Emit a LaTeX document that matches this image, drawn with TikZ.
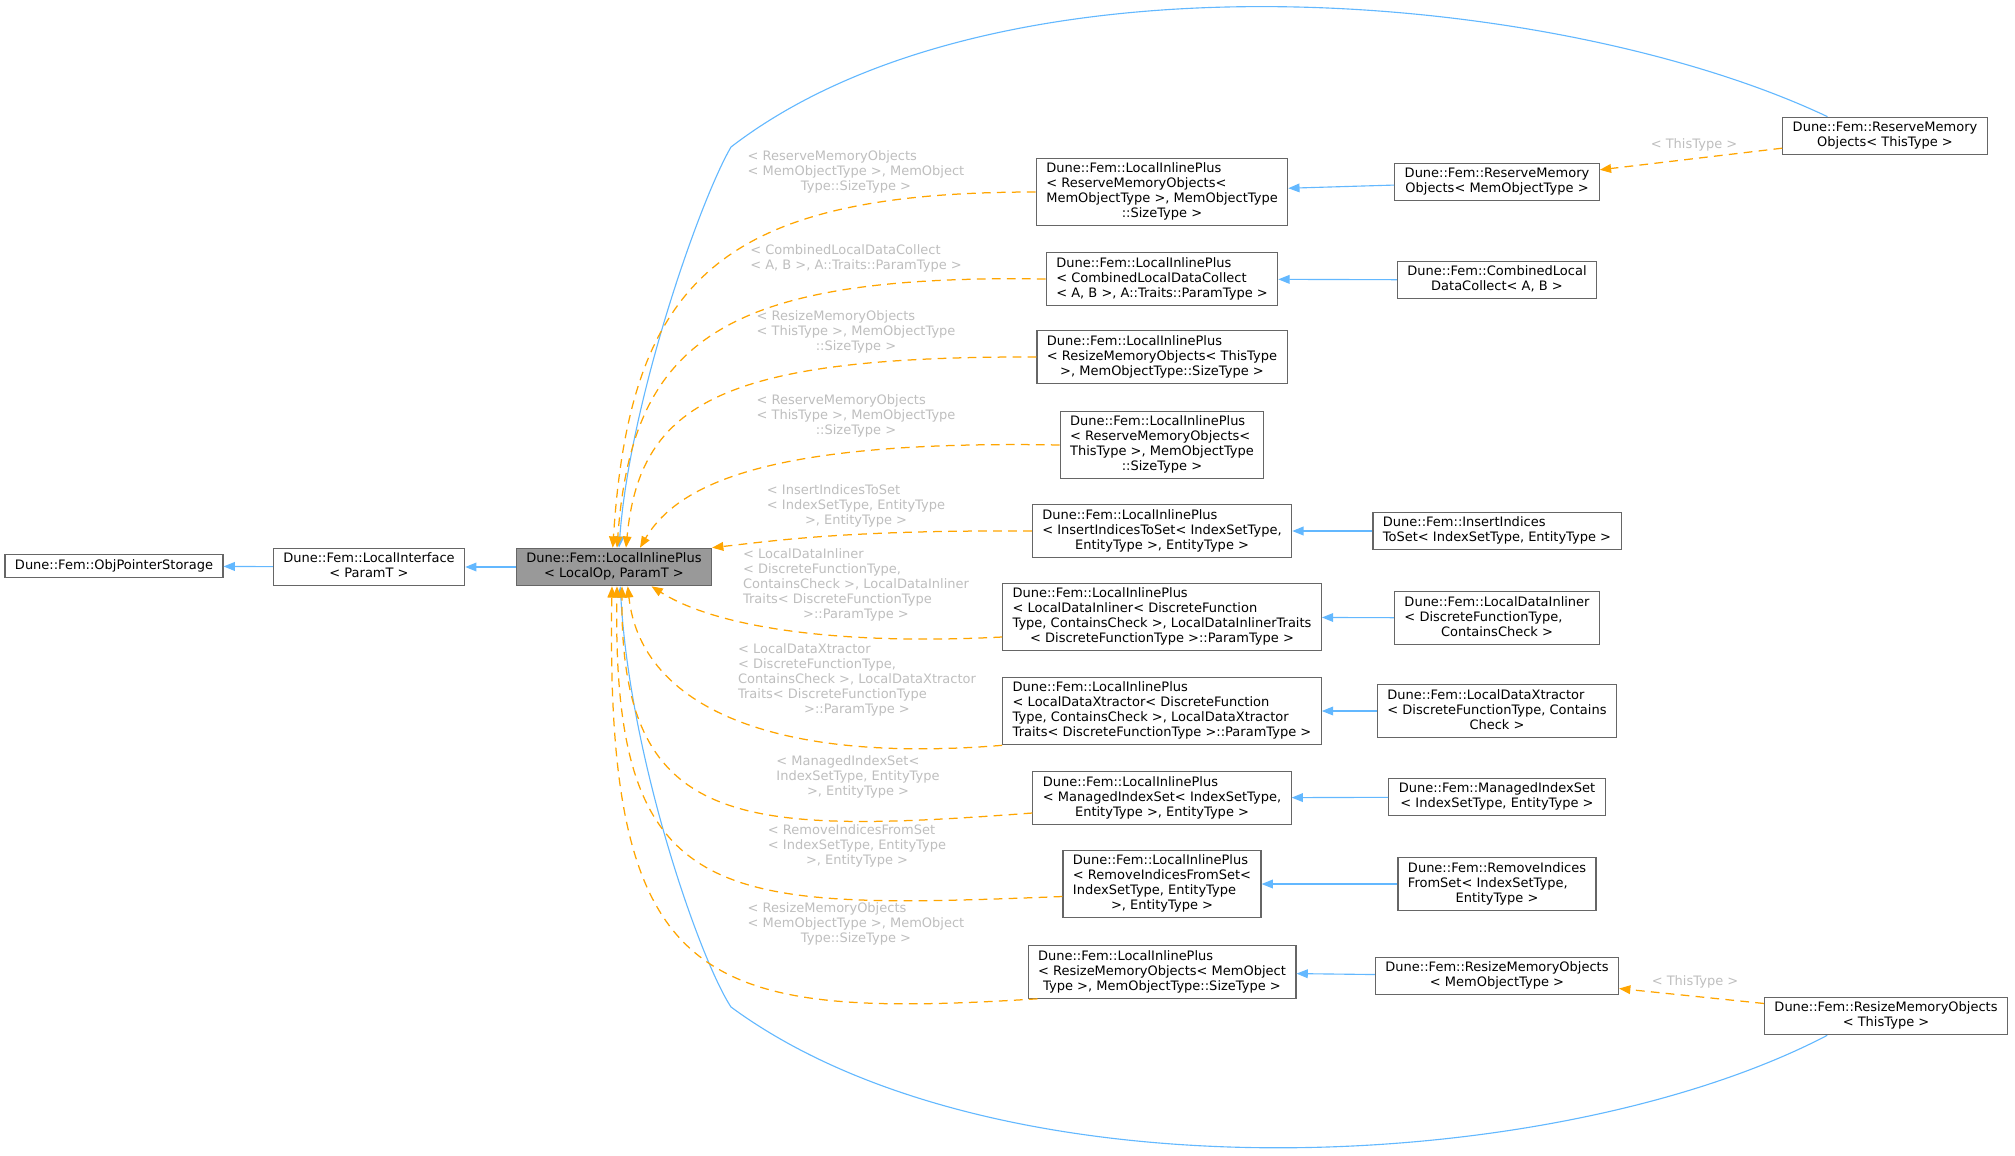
\documentclass[tikz,border=0pt]{standalone}
\usepackage{fontspec}
\setmainfont{DejaVu Sans}
\usepackage{tikz}
\usetikzlibrary{arrows.meta}
\definecolor{inhblue}{HTML}{63B8FF}
\definecolor{tmplorange}{HTML}{FFA500}
\definecolor{lblgray}{HTML}{BEBEBE}
\definecolor{clsborder}{HTML}{666666}
\definecolor{curfill}{HTML}{999999}
\newcommand{\dxfont}{\fontsize{10.4}{12}\selectfont}
\newcommand{\lw}{0.9pt}
% left aligned lines, last line centred
\newcommand{\lft}[2]{\begin{tabular}{@{}l@{}}#1\\\multicolumn{1}{@{}c@{}}{#2}\end{tabular}}
\newcommand{\ctr}[1]{\begin{tabular}{@{}c@{}}#1\end{tabular}}
\tikzset{
	cls/.style={draw=clsborder, fill=white, line width=\lw, inner xsep=8pt, inner ysep=3pt, font=\dxfont},
	cur/.style={cls, fill=curfill},
	inh/.style={draw=inhblue, line width=\lw, -{Triangle[length=9pt,width=7pt]}},
	tmpl/.style={draw=tmplorange, line width=1pt, dash pattern=on 7pt off 5pt, -{Triangle[length=9pt,width=7pt]}},
	elbl/.style={text=lblgray, font=\dxfont, inner sep=0pt}
}

\begin{document}
\begin{tikzpicture}[x=0.8pt,y=-0.8pt]
	\useasboundingbox (0,0) rectangle (2015,1155);
	%\draw[help lines] (0,0) grid[step=100] (2015,1155);
	% base chain
	\node[cls] (obj) at (114,566) {\ctr{Dune::Fem::ObjPointerStorage}};
	\node[cls] (iface) at (369,567) {\ctr{Dune::Fem::LocalInterface\\< ParamT >}};
	\node[cur] (main) at (614,567) {\ctr{Dune::Fem::LocalInlinePlus\\< LocalOp, ParamT >}};
	\draw[inh] (iface) -- (obj);
	\draw[inh] (main) -- (iface);

	% instantiations of LocalInlinePlus
	\node[cls] (m1) at (1162,192) {\lft{Dune::Fem::LocalInlinePlus\\< ReserveMemoryObjects<\\ MemObjectType >, MemObjectType}{::SizeType >}};
	\node[cls] (m2) at (1162,279) {\lft{Dune::Fem::LocalInlinePlus\\< CombinedLocalDataCollect}{< A, B >, A::Traits::ParamType >}};
	\node[cls] (m3) at (1162,357) {\lft{Dune::Fem::LocalInlinePlus\\< ResizeMemoryObjects< ThisType}{>, MemObjectType::SizeType >}};
	\node[cls] (m4) at (1162,445) {\lft{Dune::Fem::LocalInlinePlus\\< ReserveMemoryObjects<\\ ThisType >, MemObjectType}{::SizeType >}};
	\node[cls] (m5) at (1162,531) {\lft{Dune::Fem::LocalInlinePlus\\< InsertIndicesToSet< IndexSetType,}{EntityType >, EntityType >}};
	\node[cls] (m6) at (1162,617) {\lft{Dune::Fem::LocalInlinePlus\\< LocalDataInliner< DiscreteFunction\\Type, ContainsCheck >, LocalDataInlinerTraits}{< DiscreteFunctionType >::ParamType >}};
	\node[cls] (m7) at (1162,711) {\lft{Dune::Fem::LocalInlinePlus\\< LocalDataXtractor< DiscreteFunction\\Type, ContainsCheck >, LocalDataXtractor}{Traits< DiscreteFunctionType >::ParamType >}};
	\node[cls] (m8) at (1162,798) {\lft{Dune::Fem::LocalInlinePlus\\< ManagedIndexSet< IndexSetType,}{EntityType >, EntityType >}};
	\node[cls] (m9) at (1162,884) {\lft{Dune::Fem::LocalInlinePlus\\< RemoveIndicesFromSet<\\ IndexSetType, EntityType}{>, EntityType >}};
	\node[cls] (m10) at (1162,972) {\lft{Dune::Fem::LocalInlinePlus\\< ResizeMemoryObjects< MemObject}{Type >, MemObjectType::SizeType >}};

	% derived classes
	\node[cls] (r1) at (1497,182) {\lft{Dune::Fem::ReserveMemory}{Objects< MemObjectType >}};
	\node[cls] (r2) at (1497,280) {\lft{Dune::Fem::CombinedLocal}{DataCollect< A, B >}};
	\node[cls] (r5) at (1497,531) {\lft{Dune::Fem::InsertIndices}{ToSet< IndexSetType, EntityType >}};
	\node[cls] (r6) at (1497,618) {\lft{Dune::Fem::LocalDataInliner\\< DiscreteFunctionType,}{ContainsCheck >}};
	\node[cls] (r7) at (1497,711) {\lft{Dune::Fem::LocalDataXtractor\\< DiscreteFunctionType, Contains}{Check >}};
	\node[cls] (r8) at (1497,797) {\lft{Dune::Fem::ManagedIndexSet}{< IndexSetType, EntityType >}};
	\node[cls] (r9) at (1497,884) {\lft{Dune::Fem::RemoveIndices\\FromSet< IndexSetType,}{EntityType >}};
	\node[cls] (r10) at (1497,976) {\lft{Dune::Fem::ResizeMemoryObjects}{< MemObjectType >}};
	\node[cls] (far1) at (1885,136) {\ctr{Dune::Fem::ReserveMemory\\Objects< ThisType >}};
	\node[cls] (far2) at (1886,1016) {\ctr{Dune::Fem::ResizeMemoryObjects\\< ThisType >}};

	\draw[inh] (r1) -- (m1);
	\draw[inh] (r2) -- (m2);
	\draw[inh] (r5) -- (m5);
	\draw[inh] (r6) -- (m6);
	\draw[inh] (r7) -- (m7);
	\draw[inh] (r8) -- (m8);
	\draw[inh] (r9) -- (m9);
	\draw[inh] (r10) -- (m10);
	\draw[tmpl] (far1) -- (r1);
	\draw[tmpl] (far2) -- (r10);
	\node[elbl] (t1) at (1694,145) {< ThisType >};
	\node[elbl] (t2) at (1695,982) {< ThisType >};

	% long arcs back to LocalInlinePlus
	\draw[inh] ([xshift=-46pt]far1.north) .. controls (1560,-10) and (1000,-60) .. (731,147)
		.. controls (700,200) and (630,400) .. ([xshift=4pt]main.north);
	\draw[inh] ([xshift=-47pt]far2.south) .. controls (1560,1175) and (1000,1205) .. (731,1007)
		.. controls (700,960) and (630,760) .. ([xshift=5pt]main.south);

	% template arguments
	\draw[tmpl] (m1.west) .. controls (720,192) and (630,280) .. ([xshift=-1pt]main.north);
	\draw[tmpl] (m2.west) .. controls (720,274) and (632,342) .. ([xshift=2.4pt]main.north);
	\draw[tmpl] (m3.west) .. controls (720,356) and (640,404) .. ([xshift=9.6pt]main.north);
	\draw[tmpl] (m4.west) .. controls (780,440) and (680,480) .. ([xshift=20.8pt]main.north);
	\draw[tmpl] (m5.west) .. controls (850,530) and (780,540) .. (main.north east);
	\draw[tmpl] ([yshift=-16pt]m6.west) .. controls (850,645) and (720,630) .. ([xshift=30pt]main.south);
	\draw[tmpl] (m7.south west) .. controls (760,765) and (640,700) .. ([xshift=11pt]main.south);
	\draw[tmpl] ([yshift=-12pt]m8.west) .. controls (740,835) and (620,830) .. ([xshift=6.4pt]main.south);
	\draw[tmpl] ([yshift=-10pt]m9.west) .. controls (720,910) and (612,910) .. ([xshift=2.4pt]main.south);
	\draw[tmpl] ([xshift=8pt]m10.south west) .. controls (700,1020) and (605,990) .. ([xshift=-1.6pt]main.south);

	\node[elbl] (l1) at (856,172) {\lft{< ReserveMemoryObjects\\< MemObjectType >, MemObject}{Type::SizeType >}};
	\node[elbl] (l2) at (856,259) {\lft{< CombinedLocalDataCollect}{< A, B >, A::Traits::ParamType >}};
	\node[elbl] (l3) at (856,332) {\lft{< ResizeMemoryObjects\\< ThisType >, MemObjectType}{::SizeType >}};
	\node[elbl] (l4) at (856,416) {\lft{< ReserveMemoryObjects\\< ThisType >, MemObjectType}{::SizeType >}};
	\node[elbl] (l5) at (856,506) {\lft{< InsertIndicesToSet\\< IndexSetType, EntityType}{>, EntityType >}};
	\node[elbl] (l6) at (856,585) {\lft{< LocalDataInliner\\< DiscreteFunctionType,\\ ContainsCheck >, LocalDataInliner\\Traits< DiscreteFunctionType}{>::ParamType >}};
	\node[elbl] (l7) at (857,680) {\lft{< LocalDataXtractor\\< DiscreteFunctionType,\\ ContainsCheck >, LocalDataXtractor\\Traits< DiscreteFunctionType}{>::ParamType >}};
	\node[elbl] (l8) at (858,777) {\lft{< ManagedIndexSet<\\IndexSetType, EntityType}{>, EntityType >}};
	\node[elbl] (l9) at (857,846) {\lft{< RemoveIndicesFromSet\\< IndexSetType, EntityType}{>, EntityType >}};
	\node[elbl] (l10) at (856,924) {\lft{< ResizeMemoryObjects\\< MemObjectType >, MemObject}{Type::SizeType >}};
\end{tikzpicture}
\end{document}
